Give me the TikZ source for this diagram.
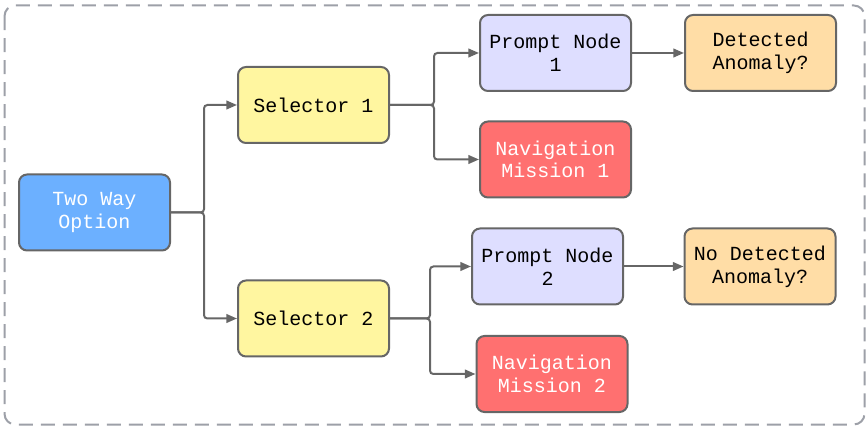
\documentclass[tikz,border=0pt]{standalone}
\usepackage{fontspec}
\setmonofont{Liberation Mono}
\usetikzlibrary{arrows.meta}
\definecolor{edgegray}{HTML}{666666}
\definecolor{framegray}{HTML}{9DA0A8}
\definecolor{bluefill}{HTML}{6CB0FF}
\definecolor{yellowfill}{HTML}{FFF6A0}
\definecolor{lavfill}{HTML}{DEDEFF}
\definecolor{redfill}{HTML}{FF7070}
\definecolor{orangefill}{HTML}{FFDDA6}
\tikzset{
  box/.style={draw=edgegray, line width=1.5pt, rounded corners=6pt,
    minimum width=113.25pt, minimum height=57pt, inner sep=0pt,
    align=center, font=\fontsize{15}{17}\selectfont\ttfamily},
  conn/.style={draw=edgegray, line width=1.5pt, rounded corners=2.5pt,
    -{Triangle[length=8pt,width=6.5pt]}},
}
\begin{document}
\begin{tikzpicture}[x=0.75pt, y=-0.75pt]
  \useasboundingbox (0,0) rectangle (867,427);
  % outer dashed frame
  \draw[framegray, line width=1.5pt, dash pattern=on 10.5pt off 6pt,
        rounded corners=8pt] (4.5,5.5) rectangle (864.5,424.5);

  % nodes
  \node[box, fill=bluefill, text=white] (two) at (94.5,212.5) {Two Way\\Option};
  \node[box, fill=yellowfill] (sel1) at (313.5,105) {Selector 1};
  \node[box, fill=yellowfill] (sel2) at (313.5,318.5) {Selector 2};
  \node[box, fill=lavfill] (pr1) at (555.5,53) {Prompt Node\\1};
  \node[box, fill=redfill, text=white] (nav1) at (555.5,159.5) {Navigation\\Mission 1};
  \node[box, fill=orangefill] (det) at (760.5,53) {Detected\\Anomaly?};
  \node[box, fill=lavfill] (pr2) at (547.5,266.5) {Prompt Node\\2};
  \node[box, fill=redfill, text=white] (nav2) at (552,374) {Navigation\\Mission 2};
  \node[box, fill=orangefill] (nodet) at (760,266.5) {No Detected\\Anomaly?};

  % branch points
  \coordinate (j0) at (204,212.5);
  \coordinate (j1) at (434,105);
  \coordinate (j2) at (430,318.5);

  % connectors
  \draw[conn] (two.east) -- (j0) |- (sel1.west);
  \draw[conn] (two.east) -- (j0) |- (sel2.west);
  \draw[conn] (sel1.east) -- (j1) |- (pr1.west);
  \draw[conn] (sel1.east) -- (j1) |- (nav1.west);
  \draw[conn] (sel2.east) -- (j2) |- (pr2.west);
  \draw[conn] (sel2.east) -- (j2) |- (nav2.west);
  \draw[conn] (pr1.east) -- (det.west);
  \draw[conn] (pr2.east) -- (nodet.west);
\end{tikzpicture}
\end{document}
